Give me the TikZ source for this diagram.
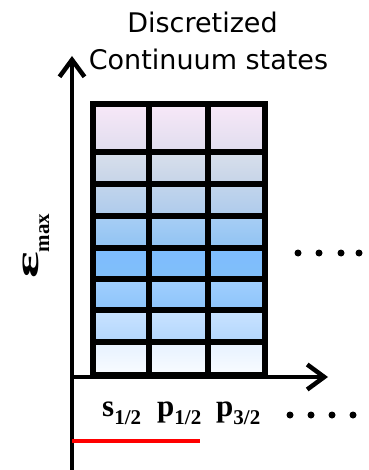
\documentclass[tikz,border=0pt]{standalone}
\usepackage{fontspec}
\setmainfont{Liberation Serif}
\newfontfamily\titlefont{DejaVu Sans}
\usetikzlibrary{arrows.meta}
\definecolor{rAt}{HTML}{F8E8F8}\definecolor{rAb}{HTML}{E0DDEE}
\definecolor{rBt}{HTML}{D8DFEC}\definecolor{rBb}{HTML}{C6D4E8}
\definecolor{rCt}{HTML}{C2D5EC}\definecolor{rCb}{HTML}{AECBEC}
\definecolor{rDt}{HTML}{A8CEF4}\definecolor{rDb}{HTML}{90C3F3}
\definecolor{rEt}{HTML}{7EBDFF}\definecolor{rEb}{HTML}{80BEF8}
\definecolor{rFt}{HTML}{A2CFFF}\definecolor{rFb}{HTML}{8CC4FA}
\definecolor{rGt}{HTML}{CAE3FF}\definecolor{rGb}{HTML}{B2D6FC}
\definecolor{rHt}{HTML}{E6F1FF}\definecolor{rHb}{HTML}{F9FCFF}
\tikzset{
  axis/.style={line width=4.5pt, -{Straight Barb[length=17pt,width=25pt]}},
  gridline/.style={line width=5.5pt, line cap=rect},
  lab/.style={anchor=base west, inner sep=0pt, font=\bfseries\fontsize{31}{31}\selectfont},
  ttl/.style={anchor=base, inner sep=0pt, font=\titlefont\fontsize{27}{27}\selectfont},
  dotmark/.style={fill=black, draw=none},
}
\newcommand{\subl}[1]{\raisebox{-8pt}{\fontsize{21}{21}\selectfont #1}}
\begin{document}
\begin{tikzpicture}[x=1pt,y=-1pt]
\useasboundingbox (0,0) rectangle (368,470);
% cells
\foreach \ya/\yb/\ct/\cb in {104/152/rAt/rAb,152/184/rBt/rBb,184/216/rCt/rCb,216/248/rDt/rDb,248/279/rEt/rEb,279/310/rFt/rFb,310/342/rGt/rGb,342/375/rHt/rHb}{
  \foreach \xa/\xb in {93/149,149/208,208/265}{
    \shade[top color=\ct, bottom color=\cb] (\xa,\ya) rectangle (\xb,\yb);
  }
}
% grid lines
\foreach \yy in {152,184,216,248,279,310,342}{
  \draw[gridline] (93,\yy) -- (265,\yy);
}
\draw[gridline] (149,104) -- (149,375);
\draw[gridline] (208,104) -- (208,375);
\draw[gridline] (93,375) rectangle (265,104);
% axes
\coordinate (o) at (72,377);
\coordinate (ybot) at (72,470);
\coordinate (ytop) at (72,56);
\coordinate (xend) at (328,377);
\draw[axis] (ybot) -- (ytop);
\draw[axis] (o) -- (xend);
% red line
\coordinate (r1) at (72,441);
\coordinate (r2) at (200,441);
\draw[red, line width=4pt] (r1) -- (r2);
% title
\node[ttl] (t1) at (202.5,33) {Discretized};
\node[ttl] (t2) at (208.5,70) {Continuum states};
% y label
\node[rotate=90, anchor=base west, inner sep=0pt, font=\bfseries] (ylab) at (38,279)
  {\scalebox{1.9}[1]{\fontsize{33}{33}\selectfont ε}\raisebox{-11pt}{\fontsize{21}{21}\selectfont max}};
% x labels
\node[lab] (s12) at (102,416) {s\subl{1/2}};
\node[lab] (p12) at (157,416) {p\subl{1/2}};
\node[lab] (p32) at (216,416) {p\subl{3/2}};
% dots
\foreach \xx in {298,319,341,359}{\fill[dotmark] (\xx,253) circle (3.5);}
\foreach \xx in {290,311,332,353}{\fill[dotmark] (\xx,415) circle (3.5);}
\end{tikzpicture}
\end{document}
